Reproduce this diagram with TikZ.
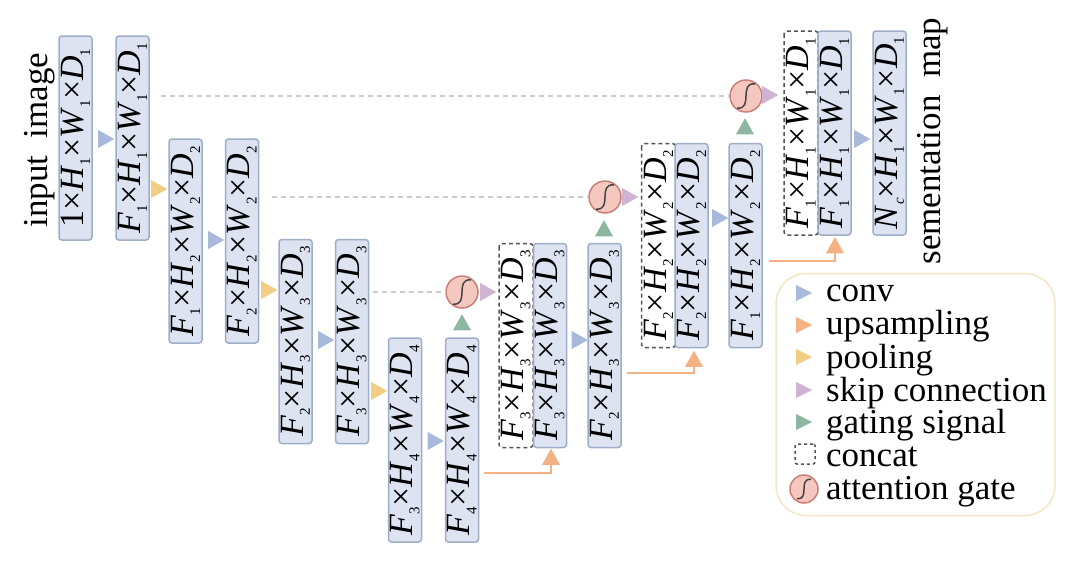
\documentclass[tikz,border=0pt]{standalone}
\usepackage{fontspec}
\setmainfont{Liberation Serif}
\usetikzlibrary{shapes.geometric, positioning}
\definecolor{boxblue}{HTML}{DDE3F1}
\definecolor{boxline}{HTML}{9FAEC8}
\definecolor{convblue}{HTML}{A9B9DB}
\definecolor{poolyellow}{HTML}{F2CE85}
\definecolor{uporange}{HTML}{F4B183}
\definecolor{skippurple}{HTML}{D0B3D3}
\definecolor{skipgrey}{HTML}{CFC8D0}
\definecolor{gategreen}{HTML}{8DB7A0}
\definecolor{gatefill}{HTML}{F4C8BE}
\definecolor{gateline}{HTML}{CB7F77}
\definecolor{keyline}{HTML}{F5E6C5}
\definecolor{darkgrey}{HTML}{555555}
\newcommand{\lowsub}[1]{\raisebox{-0.2em}{\fontsize{15}{16}\selectfont #1}}
\newcommand{\fsub}[1]{\textit{F}\lowsub{#1}}
\newcommand{\dimlabel}[2]{#1×\textit{H}\lowsub{#2}×\textit{W}\lowsub{#2}×\textit{D}\lowsub{#2}}
\tikzset{
  blockbox/.style={draw=boxline, fill=boxblue, line width=1.5pt, rounded corners=3pt, rotate=90, minimum width=204pt, minimum height=33pt, inner sep=0pt, font=\fontsize{34}{35}\selectfont},
  concatbox/.style={draw=darkgrey, dashed, dash pattern=on 4pt off 3pt, line width=1.5pt, rounded corners=3pt, rotate=90, minimum width=204pt, minimum height=34pt, inner sep=0pt, font=\fontsize{34}{35}\selectfont},
  arrowtri/.style={isosceles triangle, isosceles triangle stretches, fill=#1, minimum width=18pt, minimum height=16pt, inner sep=0pt, xshift=-2pt},
  uptri/.style={arrowtri=#1, shape border rotate=90, xshift=2pt, yshift=-2pt},
  gatenode/.style={circle, draw=gateline, fill=gatefill, line width=1.5pt, minimum size=#1, inner sep=0pt},
  skipline/.style={draw=skipgrey, dash pattern=on 5pt off 4pt, line width=1.5pt},
  upline/.style={draw=uporange, line width=1.5pt},
  keytext/.style={anchor=base west, inner sep=0pt, font=\fontsize{35}{36}\selectfont, yshift=-1.5pt},
  sidetext/.style={anchor=base, rotate=90, font=\fontsize{35}{36}\selectfont}
}
\begin{document}
\begin{tikzpicture}[x=1pt, y=-1pt]
  \useasboundingbox (0,0) rectangle (1080,563);

  % Encoder
  \node[blockbox] (enca) at (75.5,138) {\dimlabel{1}{1}};
  \node[blockbox] (encb) at (132.5,138) {\dimlabel{\fsub{1}}{1}};
  \node[blockbox] (encc) at (185.5,241) {\dimlabel{\fsub{1}}{2}};
  \node[blockbox] (encd) at (242,241) {\dimlabel{\fsub{2}}{2}};
  \node[blockbox] (ence) at (295.5,341.5) {\dimlabel{\fsub{2}}{3}};
  \node[blockbox] (encf) at (352,341.5) {\dimlabel{\fsub{3}}{3}};
  \node[blockbox] (encg) at (405,440) {\dimlabel{\fsub{3}}{4}};
  \node[blockbox] (ench) at (462,440) {\dimlabel{\fsub{4}}{4}};

  % Decoder
  \node[concatbox] (cata) at (516,345.5) {\dimlabel{\fsub{3}}{3}};
  \node[blockbox] (deca) at (550,345.5) {\dimlabel{\fsub{3}}{3}};
  \node[blockbox] (decb) at (604.5,345.5) {\dimlabel{\fsub{2}}{3}};
  \node[concatbox] (catb) at (658.5,245.5) {\dimlabel{\fsub{2}}{2}};
  \node[blockbox] (decc) at (691.5,245.5) {\dimlabel{\fsub{2}}{2}};
  \node[blockbox] (decd) at (745.5,245.5) {\dimlabel{\fsub{1}}{2}};
  \node[concatbox] (catc) at (801,133) {\dimlabel{\fsub{1}}{1}};
  \node[blockbox] (dece) at (834.5,133) {\dimlabel{\fsub{1}}{1}};
  \node[blockbox] (decf) at (889.5,133) {\dimlabel{\textit{N}\lowsub{\textit{c}}}{1}};

  % Conv und pooling
  \node[arrowtri=convblue] (conva) at (105.5,139) {};
  \node[arrowtri=poolyellow] (poola) at (158.5,189) {};
  \node[arrowtri=convblue] (convb) at (215.5,240) {};
  \node[arrowtri=poolyellow] (poolb) at (268.5,290) {};
  \node[arrowtri=convblue] (convc) at (325.5,340) {};
  \node[arrowtri=poolyellow] (poolc) at (378.5,391) {};
  \node[arrowtri=convblue] (convd) at (435,441) {};
  \node[arrowtri=convblue] (conve) at (579,340) {};
  \node[arrowtri=convblue] (convf) at (719.5,218) {};
  \node[arrowtri=convblue] (convg) at (861.5,139) {};

  % Attention gates
  \node[gatenode=32pt] (gatea) at (462,292) {};
  \node[gatenode=32pt] (gateb) at (605,197) {};
  \node[gatenode=32pt] (gatec) at (746,96) {};
  \node[arrowtri=skippurple] (skipa) at (487.5,292) {};
  \node[arrowtri=skippurple] (skipb) at (629.5,197) {};
  \node[arrowtri=skippurple] (skipc) at (769.5,95) {};
  \node[uptri=gategreen] (siga) at (462,323) {};
  \node[uptri=gategreen] (sigb) at (604,229) {};
  \node[uptri=gategreen] (sigc) at (745,127) {};

  % Skip connections
  \coordinate (froma) at (373,292);
  \coordinate (fromb) at (272,197);
  \coordinate (fromc) at (161,96);
  \draw[skipline] (froma) -- (gatea.west);
  \draw[skipline] (fromb) -- (gateb.west);
  \draw[skipline] (fromc) -- (gatec.west);

  % Upsampling
  \node[uptri=uporange] (upa) at (551,457.5) {};
  \node[uptri=uporange] (upb) at (694,359.5) {};
  \node[uptri=uporange] (upc) at (835,246) {};
  \coordinate (starta) at (484,473);
  \coordinate (startb) at (627,373);
  \coordinate (startc) at (769,261);
  \draw[upline] (starta) -| (upa.lower side);
  \draw[upline] (startb) -| (upb.lower side);
  \draw[upline] (startc) -| (upc.lower side);

  % Seitentexte
  \node[sidetext] (inputtext) at (47,140) {input~~image};
  \node[sidetext] (outputtext) at (940,141) {sementation~~map};

  % Legende
  \node[draw=keyline, fill=white, line width=1.5pt, rounded corners=30pt, minimum width=279pt, minimum height=242pt, inner sep=0pt] (legendbox) at (915.5,394.5) {};
  \node[arrowtri=convblue, minimum width=16pt] (keyconv) at (803,293) {};
  \node[arrowtri=uporange, minimum width=16pt] (keyup) at (803,325) {};
  \node[arrowtri=poolyellow, minimum width=16pt] (keypool) at (803,357) {};
  \node[arrowtri=skippurple, minimum width=16pt] (keyskip) at (803,390) {};
  \node[arrowtri=gategreen, minimum width=16pt] (keysig) at (803,422) {};
  \node[draw=darkgrey, dashed, line width=1.5pt, rounded corners=2pt, minimum size=20pt, inner sep=0pt] (keycat) at (805,454) {};
  \node[gatenode=28pt] (keygate) at (804,489) {};
  \node[keytext] (txtconv) at (826,300) {conv};
  \node[keytext] (txtup) at (826,333) {upsampling};
  \node[keytext] (txtpool) at (826,367) {pooling};
  \node[keytext] (txtskip) at (826,400) {skip connection};
  \node[keytext] (txtsig) at (826,432) {gating signal};
  \node[keytext] (txtcat) at (826,465) {concat};
  \node[keytext] (txtgate) at (826,498) {attention gate};

  % S-Kurve im Gate
  \foreach \g/\s in {gatea/1, gateb/1, gatec/1, keygate/0.8}
    \draw[line width=1.5pt, darkgrey!80!black] ([shift={(-9*\s,12*\s)}]\g.center) .. controls ([shift={(8*\s,14*\s)}]\g.center) and ([shift={(-8*\s,-14*\s)}]\g.center) .. ([shift={(9*\s,-12*\s)}]\g.center);
\end{tikzpicture}
\end{document}
